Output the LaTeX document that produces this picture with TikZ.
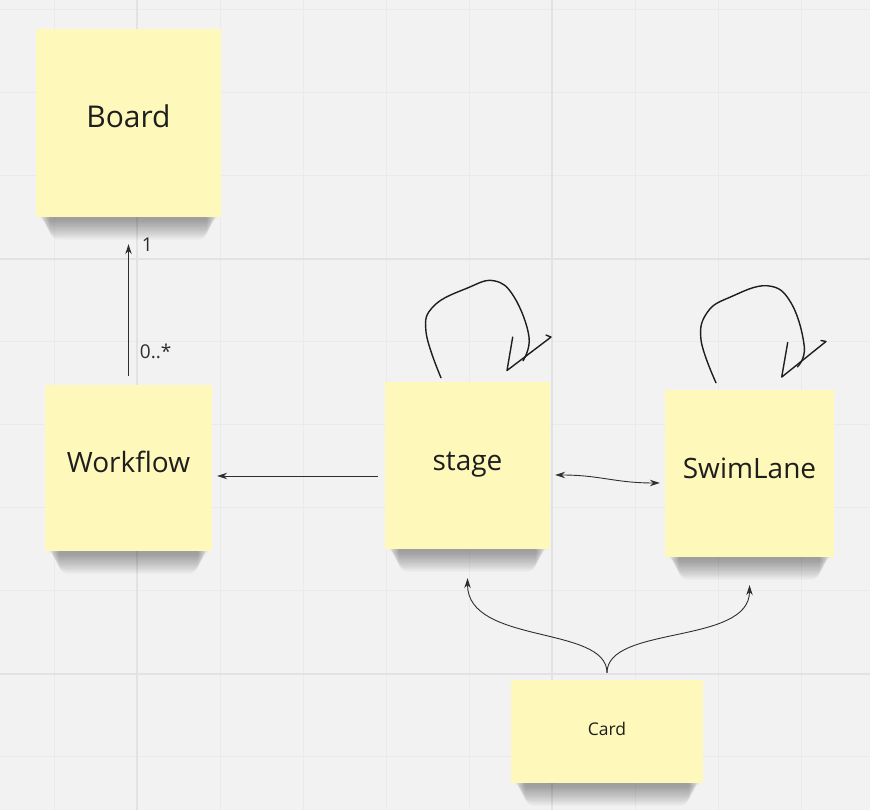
\documentclass[tikz,border=0pt]{standalone}
\usepackage{fontspec}
\setmainfont{Open Sans}
\usetikzlibrary{arrows.meta}

\definecolor{paper}{HTML}{F2F2F2}
\definecolor{minorgrid}{HTML}{EAEAEA}
\definecolor{majorgrid}{HTML}{E2E2E2}
\definecolor{sticky}{HTML}{FEF9BB}
\definecolor{ink}{HTML}{1E1E1E}
\definecolor{linkgray}{HTML}{2E2E2E}

\pgfdeclarelayer{background}
\pgfsetlayers{background,main}

\begin{document}
\begin{tikzpicture}[
            x = 1pt, y = 1pt,
            > = {Stealth[length=10pt, width=6.5pt]}, % arrow head style
            link/.style = {draw = linkgray, line width = 0.9pt},
            pen/.style = {draw = ink, line width = 1.4pt, line cap = round, line join = round},
            tag/.style = {anchor = west, inner sep = 0pt, text = linkgray, font = \fontsize{19}{23}\selectfont}
        ]

        \tikzstyle{note}=[
            fill = sticky,
            inner sep = 0pt,
            text = ink,
            text height = 20pt,
            text depth = 10pt,
            font = \fontsize{28}{34}\selectfont
        ]

        \useasboundingbox (0,0) rectangle (870,810);

        \node[note, minimum width=185pt, minimum height=188pt, font=\fontsize{30}{36}\selectfont] (board) at (128.5,687) {Board};
        \node[note, minimum width=167pt, minimum height=166pt, node distance=345pt, below of=board] (workflow) {Workflow};
        \node[note, minimum width=165pt, minimum height=167pt, node distance=339pt, right of=workflow, yshift=2.5pt] (stage) {stage};
        \node[note, minimum width=169pt, minimum height=167pt, node distance=282pt, right of=stage, yshift=-8pt] (swimlane) {SwimLane};
        \node[note, minimum width=192pt, minimum height=103pt, node distance=266pt, below of=stage, xshift=139.5pt,
              font=\fontsize{17.5}{21}\selectfont, text height=12pt, text depth=4pt] (card) {Card};

        % board grid and soft shadows under the notes
        \begin{pgfonlayer}{background}
            \fill[paper] (0,0) rectangle (870,810);
            \foreach \x in {54,137,...,801} \draw[minorgrid, line width=1pt] (\x,0) -- (\x,810);
            \foreach \y in {53,136,...,800} \draw[minorgrid, line width=1pt] (0,\y) -- (870,\y);
            \foreach \x in {137,552} \draw[majorgrid, line width=2pt] (\x,0) -- (\x,810);
            \foreach \y in {136,551} \draw[majorgrid, line width=2pt] (0,\y) -- (870,\y);
            \foreach \n in {board,workflow,stage,swimlane,card}
                \foreach \k in {1,...,16}
                    \fill[black, opacity=0.022, rounded corners=9pt]
                        ([xshift=3pt+0.7pt*\k, yshift=6pt]\n.south west) rectangle
                        ([xshift=-3pt-0.7pt*\k, yshift=-2pt-1.3pt*\k]\n.south east);
        \end{pgfonlayer}

        \draw[link, ->] ([yshift=9pt]workflow.north) -- ([yshift=-27pt]board.south)
            node[tag, pos=1, xshift=13pt, yshift=-1pt] {1}
            node[tag, pos=0, xshift=11pt, yshift=24pt] {0..*};
        \draw[link, ->] ([xshift=-7pt, yshift=-10.5pt]stage.west) -- ([xshift=5pt, yshift=-8pt]workflow.east);
        \draw[link, <->] ([xshift=5pt, yshift=-9.5pt]stage.east) .. controls +(45,0) and +(-45,0) .. ([xshift=-5pt, yshift=-9.5pt]swimlane.west);

        \coordinate (fork) at ([yshift=7pt]card.north);
        \draw[link, ->] (fork) .. controls +(0,48) and +(0,-67) .. ([yshift=-29pt]stage.south);
        \draw[link, ->] (fork) .. controls +(0,48) and +(0,-60) .. ([yshift=-28pt]swimlane.south);

        % hand drawn self loops
        \begin{scope}[shift={(stage.north)}]
            \draw[pen] plot[smooth, tension=0.7] coordinates {(-26.5,4) (-41.5,50) (-33.5,76) (0.5,94) (26.5,101) (46.5,85) (61.5,45) (55.5,21)};
            \draw[pen] (45.2,44.7) -- (39.5,11.3) -- (83.5,44.7) -- (78.5,46.7);
        \end{scope}
        \begin{scope}[shift={(swimlane.north)}]
            \draw[pen] plot[smooth, tension=0.7] coordinates {(-33.5,7) (-48.5,50) (-41.8,78) (-18.5,93) (18,104) (41.5,87) (54.8,43) (48,23)};
            \draw[pen] (38.2,47.3) -- (32.2,12.7) -- (76.5,48.3) -- (71.5,49.3);
        \end{scope}

  \end{tikzpicture}
\end{document}
